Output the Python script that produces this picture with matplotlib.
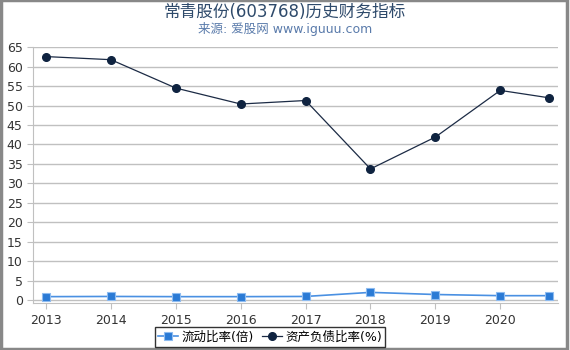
import matplotlib
matplotlib.use("Agg")
import matplotlib.pyplot as plt
from matplotlib.patches import Rectangle

plt.rcParams['font.family'] = ['DejaVu Sans', 'Noto Sans CJK SC']

# Data
x_pos = [2013, 2014, 2015, 2016, 2017, 2018, 2019, 2020, 2020.75]
tick_years = [2013, 2014, 2015, 2016, 2017, 2018, 2019, 2020]
current_ratio = [0.85, 0.9, 0.85, 0.85, 0.9, 1.95, 1.4, 1.1, 1.1]
debt_ratio = [62.6, 61.8, 54.5, 50.4, 51.3, 33.7, 41.9, 53.9, 52.0]

TITLE = "常青股份(603768)历史财务指标"
SUBTITLE = "来源: 爱股网 www.iguuu.com"

fig = plt.figure(figsize=(5.7, 3.5), dpi=100)
ax = fig.add_axes([0.058, 0.133, 0.921, 0.732])

# Series
ax.plot(x_pos, current_ratio, color='#4a90e2', lw=1.2, marker='s', ms=5.5,
        mfc='#2a7ad5', mec='#8dbbf0', mew=0.8, label='流动比率(倍)', zorder=3)
ax.plot(x_pos, debt_ratio, color='#1c2b45', lw=0.9, marker='o', ms=5.5,
        mfc='#0f2340', mec='#0f2340', label='资产负债比率(%)', zorder=3)

# Axes
ax.set_xlim(2012.8, 2020.89)
ax.set_ylim(-0.9, 65)
ax.set_yticks(range(0, 66, 5))
ax.set_xticks(tick_years)
ax.set_xticklabels([str(y) for y in tick_years])
ax.grid(axis='y', color='#c0c0c0', lw=1)
ax.set_axisbelow(True)
for side in ['top', 'right']:
    ax.spines[side].set_visible(False)
ax.spines['left'].set_color('#c0c0c0')
ax.spines['bottom'].set_color('#c0c0c0')
ax.tick_params(axis='both', colors='#c0c0c0', labelcolor='#333333',
               labelsize=9, length=4)

# Titles
fig.text(0.5, 0.965, TITLE, ha='center', va='center', fontsize=12, color='#2e4a6b')
fig.text(0.5, 0.917, SUBTITLE, ha='center', va='center', fontsize=9, color='#5a7bab')

# Legend
leg = fig.legend(loc='center', bbox_to_anchor=(270 / 570, 1 - 337 / 350), ncol=2,
                 fontsize=9, frameon=True, fancybox=False, handlelength=1.6,
                 handletextpad=0.3, columnspacing=0.6, borderpad=0.25)
leg.get_frame().set_edgecolor('black')
leg.get_frame().set_linewidth(1)

# Outer frame
fig.patches.append(Rectangle((0.001, 0.004), 0.994, 0.995, transform=fig.transFigure,
                             fill=False, edgecolor='#888888', lw=2.5))

fig.savefig('out.png', dpi=100)
